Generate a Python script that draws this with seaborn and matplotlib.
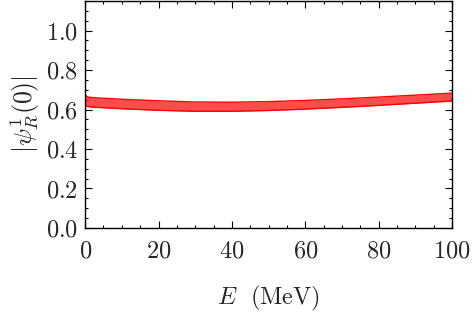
import numpy as np
import pandas as pd
import matplotlib
matplotlib.use("Agg")
import matplotlib.pyplot as plt
import seaborn as sns
from matplotlib.ticker import MultipleLocator

# band
energy = [0.0, 0.3, 1.0, 3.0, 6.0, 10.0, 20.0, 30.0, 40.0, 50.0, 60.0, 70.0, 80.0, 90.0, 100.0]
lower = [0.630, 0.617, 0.614, 0.611, 0.608, 0.604, 0.596, 0.591, 0.591, 0.595, 0.602, 0.611, 0.621, 0.632, 0.643]
upper = [0.682, 0.668, 0.662, 0.659, 0.656, 0.652, 0.644, 0.638, 0.637, 0.640, 0.646, 0.654, 0.663, 0.673, 0.683]

df = pd.DataFrame({"E": energy, "lo": lower, "hi": upper})

sns.set_style("ticks")
plt.rcParams["font.family"] = "serif"
plt.rcParams["font.serif"] = ["cmr10", "DejaVu Serif"]
plt.rcParams["mathtext.fontset"] = "cm"
plt.rcParams["axes.formatter.use_mathtext"] = True

fs = 17.5
fig = plt.figure(figsize=(4.73, 3.17), dpi=100)
ax = fig.add_axes([0.18, 0.281, 0.776, 0.716])

ax.fill_between(df["E"], df["lo"], df["hi"], color="#ff2020", alpha=0.8, lw=0)
sns.lineplot(data=df, x="E", y="lo", color="red", lw=1, ax=ax)
sns.lineplot(data=df, x="E", y="hi", color="red", lw=1, ax=ax)

ax.set_xlim(0, 100)
ax.set_ylim(0, 1.15)
ax.xaxis.set_minor_locator(MultipleLocator(5))
ax.yaxis.set_minor_locator(MultipleLocator(0.05))
ax.set_xticks(np.arange(0, 101, 20))
ax.set_xticklabels([f"${v}$" for v in range(0, 101, 20)])
ax.set_yticks(np.arange(0, 1.01, 0.2))
ax.set_yticklabels([f"${v:.1f}$" for v in np.arange(0, 1.01, 0.2)])
ax.tick_params(which="both", direction="in", top=True, right=True, labelsize=fs, width=0.8, color="black")
ax.tick_params(which="major", length=5)
ax.tick_params(which="minor", length=2.5)
ax.tick_params(axis="x", which="major", pad=9)
ax.tick_params(axis="y", which="major", pad=5)
for s in ax.spines.values():
    s.set_linewidth(1.0)
    s.set_color("black")

ax.set_xlabel(r"$E\ $ (MeV)", fontsize=fs, labelpad=15)
ax.set_ylabel(r"$|\psi_R^1(0)|$", fontsize=fs + 1, labelpad=3)

fig.savefig("out.png", dpi=100)
